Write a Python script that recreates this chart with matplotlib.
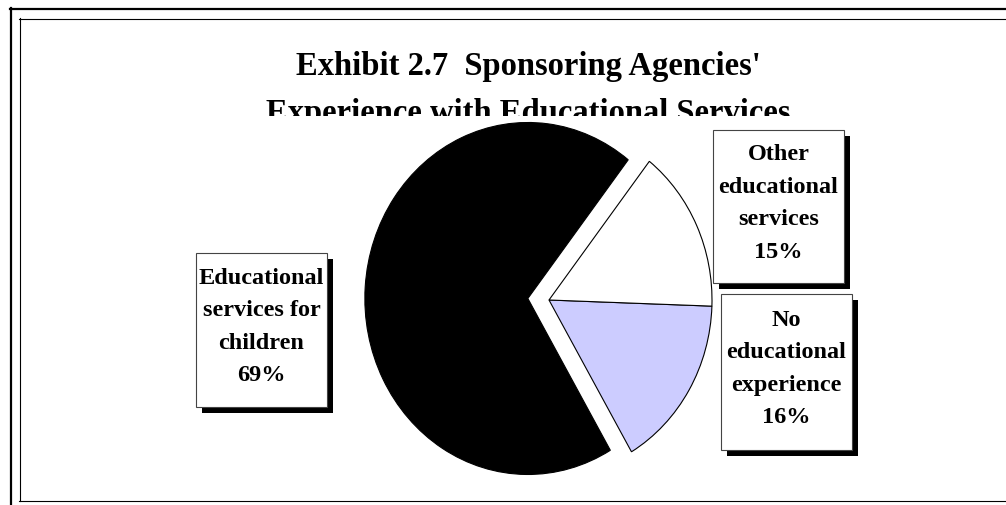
import matplotlib
matplotlib.use("Agg")
import matplotlib.pyplot as plt
from matplotlib.patches import Rectangle
from matplotlib.lines import Line2D

# ---- data ----
title_lines = ["Exhibit 2.7  Sponsoring Agencies'",
               "Experience with Educational Services"]
categories = ["Educational\nservices for\nchildren",
              "No\neducational\nexperience",
              "Other\neducational\nservices"]
values = [69, 16, 15]

# ---- style ----
colors = ["#000000", "#CCCCFF", "#FFFFFF"]
explode = [0.13, 0, 0]
FONT = ["Liberation Serif", "DejaVu Serif"]

W, H = 1006, 505
fig = plt.figure(figsize=(W / 100, H / 100), dpi=100)
fig.patch.set_facecolor("white")


def fx(x):
    return x / W


def fy(y):
    return 1 - y / H


# frames
frame_lines = [
    (10, 8.5, 1006, 8.5, 1.6),
    (10.5, 8, 10.5, 505, 1.6),
    (19, 18.5, 1006, 18.5, 0.8),
    (19.5, 18, 19.5, 501, 0.8),
    (19, 500.5, 1006, 500.5, 0.8),
]
for x0, y0, x1, y1, lw in frame_lines:
    fig.add_artist(Line2D([fx(x0), fx(x1)], [fy(y0), fy(y1)],
                          transform=fig.transFigure, color="black",
                          lw=lw, zorder=10))

# title (partly covered by the plot area, as in the original)
title_y = [75, 122]
for line, yb in zip(title_lines, title_y):
    fig.text(fx(528), fy(yb), line, ha="center", va="baseline",
             fontsize=23.5, fontweight="bold", family=FONT, zorder=1)

# pie axes
ax_l, ax_r, ax_t, ax_b = 180, 880, 116, 490
ax = fig.add_axes([fx(ax_l), fy(ax_b), (ax_r - ax_l) / W, (ax_b - ax_t) / H],
                  zorder=2)
cx, cy, rx, ry = 549, 300, 163, 176
ax.pie(values, colors=colors, startangle=52, counterclock=True,
       explode=explode,
       wedgeprops=dict(edgecolor="black", linewidth=0.8))
ax.set_aspect("auto")
ax.set_frame_on(True)
ax.set_facecolor("white")
for s in ax.spines.values():
    s.set_visible(False)
ax.set_xticks([])
ax.set_yticks([])
ax.set_xlim((ax_l - cx) / rx, (ax_r - cx) / rx)
ax.set_ylim((cy - ax_b) / ry, (cy - ax_t) / ry)

# label boxes with drop shadows
boxes_px = [(196, 253, 327, 407), (721, 294, 852, 450), (713, 130, 844, 283)]
shadow = 6
for cat, val, (x0, y0, x1, y1) in zip(categories, values, boxes_px):
    w, h = (x1 - x0) / W, (y1 - y0) / H
    fig.add_artist(Rectangle((fx(x0 + shadow), fy(y1 + shadow)), w, h,
                             transform=fig.transFigure, facecolor="black",
                             edgecolor="none", zorder=4))
    fig.add_artist(Rectangle((fx(x0), fy(y1)), w, h,
                             transform=fig.transFigure, facecolor="white",
                             edgecolor="#444444", lw=0.8, zorder=5))
    fig.text(fx((x0 + x1) / 2), fy((y0 + y1) / 2 - 3), f"{cat}\n{val}%",
             ha="center", va="center", fontsize=17.5, fontweight="bold",
             family=FONT, linespacing=1.72, zorder=6)

fig.savefig("out.png", dpi=100, facecolor="white")
